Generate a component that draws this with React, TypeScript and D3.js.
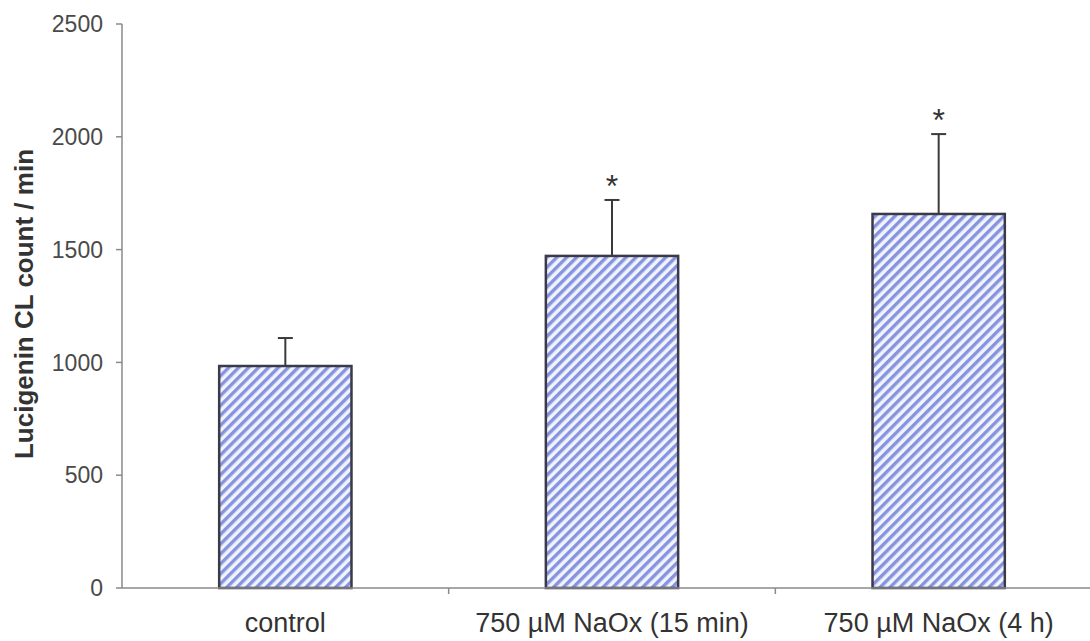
import React from "react";
import * as d3 from "d3";

const categories = ["control", "750 µM NaOx (15 min)", "750 µM NaOx (4 h)"];
const means = [984, 1472, 1658];
const errors = [124, 248, 354];
const significant = [false, true, true];
const yTicks = [0, 500, 1000, 1500, 2000, 2500];

const W = 1090;
const H = 641;
const left = 122;
const right = 1102;
const top = 24;
const bottom = 588;

export default function App() {
  const x = d3.scaleBand<string>().domain(categories).range([left, right]).paddingInner(0).paddingOuter(0);
  const y = d3.scaleLinear().domain([0, 2500]).range([bottom, top]);
  const barW = x.bandwidth() * 0.405;
  const font = "Arial, 'Liberation Sans', Helvetica, sans-serif";
  const textColor = "#4a4a4a";
  const axisColor = "#8a8a8a";

  return (
    <svg width={W} height={H} style={{ position: "absolute", left: 0, top: 0, background: "#fff" }}>
      <defs>
        <pattern id="hatch" patternUnits="userSpaceOnUse" width="7" height="7" patternTransform="rotate(45)">
          <rect width="7" height="7" fill="#f2f3fc" />
          <rect x="0" y="0" width="3.4" height="7" fill="#8594de" />
        </pattern>
      </defs>
      {categories.map((c, i) => {
        const cx = (x(c) as number) + x.bandwidth() / 2;
        const yTop = y(means[i]);
        const yErr = y(means[i] + errors[i]);
        return (
          <g key={c}>
            <rect x={cx - barW / 2} y={yTop} width={barW} height={bottom - yTop} fill="url(#hatch)" stroke="#3a3a48" strokeWidth={2.5} />
            <line x1={cx} x2={cx} y1={yTop} y2={yErr} stroke="#3a3a3a" strokeWidth={2} />
            <line x1={cx - 7.5} x2={cx + 7.5} y1={yErr} y2={yErr} stroke="#3a3a3a" strokeWidth={2} />
            {significant[i] && (
              <text x={cx} y={yErr - 3} textAnchor="middle" fontFamily={font} fontSize={32} fill="#333">*</text>
            )}
          </g>
        );
      })}
      <line x1={left} x2={left} y1={top} y2={bottom} stroke={axisColor} strokeWidth={1.5} />
      {yTicks.map((t) => (
        <g key={t}>
          <line x1={left - 6} x2={left} y1={y(t)} y2={y(t)} stroke={axisColor} strokeWidth={1.5} />
          <text x={left - 19} y={y(t)} dy="0.36em" textAnchor="end" fontFamily={font} fontSize={23} fill={textColor}>{t}</text>
        </g>
      ))}
      <line x1={left} x2={right} y1={bottom} y2={bottom} stroke={axisColor} strokeWidth={1.5} />
      {categories.slice(1).map((c) => (
        <line key={c} x1={x(c) as number} x2={x(c) as number} y1={bottom} y2={bottom + 6} stroke={axisColor} strokeWidth={1.5} />
      ))}
      {categories.map((c) => (
        <text key={c} x={(x(c) as number) + x.bandwidth() / 2} y={632} textAnchor="middle" fontFamily={font} fontSize={27} fill="#333">{c}</text>
      ))}
      <text transform={`translate(33,304) rotate(-90)`} textAnchor="middle" fontFamily={font} fontSize={26} fontWeight="bold" fill="#333">Lucigenin CL count / min</text>
    </svg>
  );
}
